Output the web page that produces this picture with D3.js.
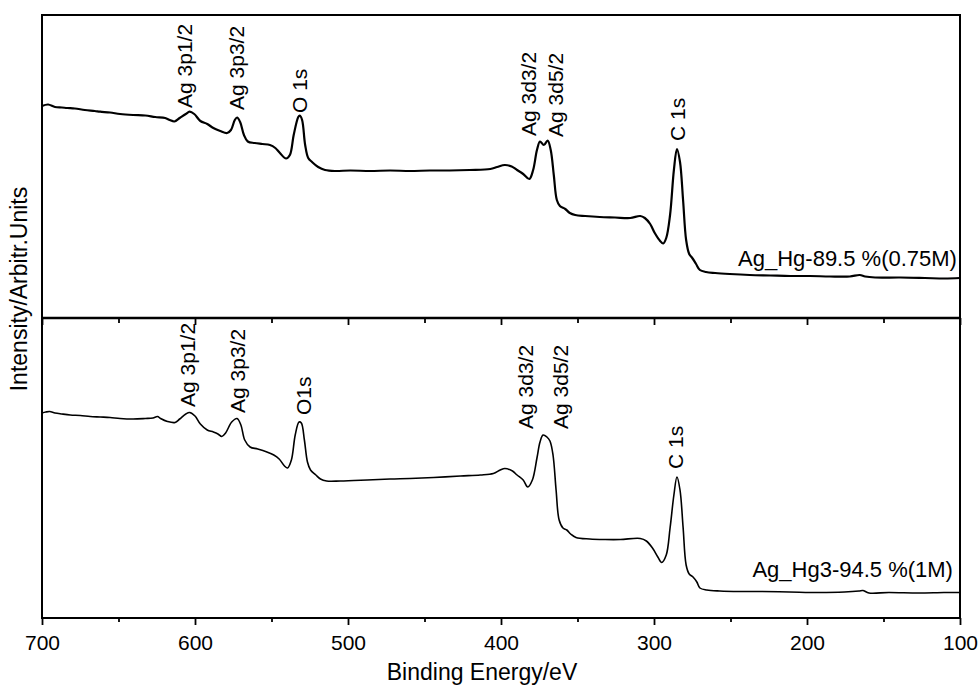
<!DOCTYPE html>
<html>
<head>
    <meta charset="utf-8">
    <style>
        body {
            margin: 0;
            background: white;
        }

        svg {
            font-family: 'Liberation Sans', Arial, Helvetica, sans-serif;
        }

        .peak {
            font-size: 21px;
        }

        .sample {
            font-size: 22px;
        }

        .tick text {
            font-size: 21px;
        }

        .axis-title {
            font-size: 23px;
        }
    </style>
</head>
<body>
    <svg width="980" height="686"></svg>

<script src="https://d3js.org/d3.v7.min.js"></script>
<script>
    // spectra: [binding energy (eV), intensity (a.u.)]
    let topSpectrum = [
        [700, 212], [696, 213.5], [691.5, 211], [687, 210.5], [683.5, 210], [678.5, 209.5], [672, 208],
        [665.5, 207], [662, 206.3], [655.5, 205.5], [649, 204], [640.5, 203], [632.5, 202.5], [626, 201],
        [619.5, 200], [616.5, 198], [613.5, 196.5], [610, 200], [606, 204], [603.5, 206.3], [600.5, 204],
        [596.5, 197], [592, 194], [588, 190], [583.5, 187], [579, 185], [576.5, 188], [574, 198],
        [572.5, 200.5], [570.5, 196], [568, 183], [565.5, 176.5], [561, 175], [556, 174], [551, 173],
        [547.5, 170], [544.5, 165], [540.5, 159.5], [538, 163], [535.5, 183], [532.5, 201], [531.5, 202.5],
        [530, 198], [528, 173], [526, 160], [523.5, 156], [519.5, 151], [515, 148], [508.5, 147],
        [498.5, 147.5], [485.5, 147], [472.5, 147.5], [459.5, 147], [446.5, 147.5], [433.5, 147.5],
        [420.5, 148], [407, 149], [402.5, 151], [397.5, 153], [393, 151.5], [389.5, 148], [385.5, 144],
        [381.5, 139], [379, 148], [376.5, 168], [374.5, 176.5], [372, 173], [369.5, 177.5], [367.5, 168],
        [365.5, 143], [363.5, 118], [361.5, 112], [358, 109], [355, 105], [351.5, 103], [345, 102],
        [335.5, 101], [325.5, 100.5], [315.5, 100], [309, 102], [306, 100], [302.5, 94], [299.5, 85],
        [296, 77], [294, 74.5], [292, 80], [289.5, 103], [287, 148], [285, 169], [283, 156], [281, 118],
        [279, 78], [277, 64], [275, 60], [272.5, 54], [270, 48], [266, 46], [260, 45], [250.5, 44],
        [237.5, 43], [224, 42.5], [211, 42], [198, 42], [185, 41.5], [172, 41.5], [165.5, 43], [162, 41.5],
        [155.5, 40.5], [139, 40.5], [123, 40], [110, 39.5], [100, 40]
    ]

    let bottomSpectrum = [
        [700, 205], [697.5, 206], [695, 206.5], [691.5, 205], [687, 204], [681.5, 203], [675, 202.5],
        [668.5, 201.5], [662, 201], [655.5, 200.5], [649, 199.5], [640.5, 199], [632.5, 199.5],
        [627.5, 200], [624.5, 201.5], [622.5, 199.5], [618, 196.5], [613, 195.5], [610, 199], [606, 204],
        [603.5, 205.5], [600, 202], [596.5, 194], [592, 188], [588, 186], [585, 184], [582.5, 181.5],
        [580, 185], [576, 196], [572.5, 199.5], [570, 193], [567.5, 178], [564, 171], [559, 169],
        [553, 166], [548.5, 163], [545, 159], [541.5, 152], [539.5, 150], [537, 158], [534.5, 183],
        [532, 196], [530.5, 195], [528.5, 178], [526.5, 156], [524.5, 148], [521, 143], [518, 139],
        [514, 137], [505, 137], [487.5, 138], [472.5, 139], [459.5, 139.5], [444, 140.5], [426.5, 142],
        [413.5, 143], [405, 144.5], [400.5, 148], [397.5, 149.5], [392.5, 147], [389.5, 143],
        [385.5, 138], [382.5, 131], [379.5, 138], [376.5, 160], [374.5, 176], [372.5, 183], [370, 181],
        [368, 177], [366, 163], [364, 128], [362, 98], [359.5, 90], [357, 88], [354.5, 84], [351, 80.5],
        [342, 79], [332, 78.5], [322, 78.5], [309, 79.5], [305, 77], [301, 70], [297.5, 61], [295, 55.5],
        [292, 63], [289.5, 90], [287, 123], [285, 141], [283, 128], [281, 91], [279, 53], [277, 44],
        [274.5, 41], [272, 36], [270, 30], [265.5, 28], [257, 27], [244, 26.5], [231, 26.5], [211.5, 26],
        [192, 25.5], [175.5, 26], [166, 27], [163.5, 27.5], [159.5, 25], [146.5, 25.5], [127, 25],
        [110.5, 25.5], [100.5, 25.5]
    ]

    // peak annotations: [text, energy, intensity at text start]
    let topPeaks = [
        ["Ag 3p1/2", 602, 210], ["Ag 3p3/2", 568, 208], ["O 1s", 526.8, 205],
        ["Ag 3d3/2", 377.1, 182], ["Ag 3d5/2", 359.5, 181], ["C 1s", 279.7, 177]
    ]
    let bottomPeaks = [
        ["Ag 3p1/2", 600, 211], ["Ag 3p3/2", 567.3, 205], ["O1s", 524.2, 203],
        ["Ag 3d3/2", 379.1, 189], ["Ag 3d5/2", 356.2, 189], ["C 1s", 281, 149]
    ]

    let sampleNames = ["Ag_Hg-89.5 %(0.75M)", "Ag_Hg3-94.5 %(1M)"]
    let sampleSpots = [[102, 52], [104.6, 41]]

    let majorTicks = [700, 600, 500, 400, 300, 200, 100]
    let minorTicks = [650, 550, 450, 350, 250, 150]

    let plotLeft = 42, plotRight = 960, plotTop = 15, plotMid = 318, plotBottom = 618

    let svg = d3.select("svg")

    let x = d3.scaleLinear()
        .domain([700, 100])
        .range([plotLeft, plotRight])

    let yTop = d3.scaleLinear()
        .domain([0, 303])
        .range([plotMid, plotTop])

    let yBottom = d3.scaleLinear()
        .domain([0, 300])
        .range([plotBottom, plotMid])

    function drawSpectrum(data, y, width) {
        let line = d3.line()
            .x(d => x(d[0]))
            .y(d => y(d[1]))
            .curve(d3.curveCatmullRom.alpha(0.5))

        svg.append("path")
            .datum(data)
            .attr("d", line)
            .style("fill", "none")
            .style("stroke", "#000")
            .style("stroke-width", width)
            .style("stroke-linejoin", "round")
    }

    drawSpectrum(topSpectrum, yTop, 2.2)
    drawSpectrum(bottomSpectrum, yBottom, 1.6)

    function drawPeaks(peaks, y) {
        svg.selectAll(null)
            .data(peaks)
            .join("text")
            .attr("class", "peak")
            .attr("transform", d => "translate(" + x(d[1]) + "," + y(d[2]) + ") rotate(-90)")
            .text(d => d[0])
    }

    drawPeaks(topPeaks, yTop)
    drawPeaks(bottomPeaks, yBottom)

    svg.selectAll(".sample")
        .data(sampleNames)
        .join("text")
        .attr("class", "sample")
        .attr("text-anchor", "end")
        .attr("x", (d, i) => x(sampleSpots[i][0]))
        .attr("y", (d, i) => (i == 0 ? yTop : yBottom)(sampleSpots[i][1]))
        .text(d => d)

    // bottom axis, ticks outward
    let axisB = svg.append("g")
        .attr("transform", "translate(0," + plotBottom + ")")
        .call(d3.axisBottom(x).tickValues(majorTicks).tickSize(7).tickPadding(10).tickFormat(d3.format("d")))
    axisB.select(".domain").remove()

    svg.append("g")
        .attr("transform", "translate(0," + plotBottom + ")")
        .call(d3.axisBottom(x).tickValues(minorTicks).tickSize(4).tickFormat(""))
        .select(".domain").remove()

    // ticks on the divider, pointing into the lower panel
    svg.append("g")
        .attr("transform", "translate(0," + plotMid + ")")
        .call(d3.axisBottom(x).tickValues(majorTicks).tickSize(7).tickFormat(""))
        .select(".domain").remove()

    svg.append("g")
        .attr("transform", "translate(0," + plotMid + ")")
        .call(d3.axisBottom(x).tickValues(minorTicks).tickSize(5).tickFormat(""))
        .select(".domain").remove()

    svg.selectAll(".tick line")
        .style("stroke-width", 1.8)

    svg.selectAll(".tick text")
        .style("font-family", "'Liberation Sans', Arial, sans-serif")

    // frame and divider
    svg.append("rect")
        .attr("x", plotLeft)
        .attr("y", plotTop)
        .attr("width", plotRight - plotLeft)
        .attr("height", plotBottom - plotTop)
        .style("fill", "none")
        .style("stroke", "#000")
        .style("stroke-width", 2)

    svg.append("line")
        .attr("x1", plotLeft)
        .attr("x2", plotRight)
        .attr("y1", plotMid)
        .attr("y2", plotMid)
        .style("stroke", "#000")
        .style("stroke-width", 2.5)

    svg.append("text")
        .attr("class", "axis-title")
        .attr("x", 482)
        .attr("y", 680)
        .attr("text-anchor", "middle")
        .text("Binding Energy/eV")

    svg.append("text")
        .attr("class", "axis-title")
        .attr("transform", "translate(27,289) rotate(-90)")
        .attr("text-anchor", "middle")
        .text("Intensity/Arbitr.Units")
</script>
</body>
</html>
